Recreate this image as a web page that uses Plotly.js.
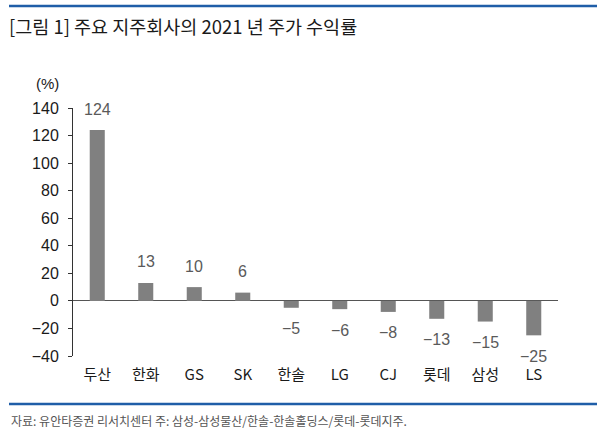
<!DOCTYPE html>
<html>
<head>
<meta charset="utf-8">
<script src="https://cdn.plot.ly/plotly-3.0.1.min.js"></script>
<style>
html,body{margin:0;padding:0;background:#fff;}
#chart{width:606px;height:444px;}
</style>
</head>
<body>
<div id="chart"></div>
<script>
const categories = ["두산","한화","GS","SK","한솔","LG","CJ","롯데","삼성","LS"];
const returns = [124, 13, 10, 6, -5, -6, -8, -13, -15, -25];
const yTicks = [-40, -20, 0, 20, 40, 60, 80, 100, 120, 140];

const W = 606, H = 444;
const M = {l: 73, r: 48, t: 108, b: 88};
const pw = W - M.l - M.r, ph = H - M.t - M.b;
const px = x => (x - M.l) / pw;
const py = y => (H - M.b - y) / ph;

const FONT = "Noto Sans CJK KR, Liberation Sans, sans-serif";

const fmt = v => (v < 0 ? "\u2212" + Math.abs(v) : String(v));

const labelAnns = categories.map((c, i) => ({
  x: c, y: returns[i], xref: "x", yref: "y",
  text: fmt(returns[i]), showarrow: false,
  yshift: returns[i] >= 0 ? 21 : -21,
  font: {family: "Liberation Sans, Arial, sans-serif", size: 16, color: "#5a5a5a"}
}));

const trace = {
  type: "bar", x: categories, y: returns,
  marker: {color: "#808080"}, width: 0.31,
  hoverinfo: "none"
};

const layout = {
  width: W, height: H,
  margin: M,
  paper_bgcolor: "#fff", plot_bgcolor: "#fff",
  showlegend: false,
  title: {
    text: "[그림 1] 주요 지주회사의 2021 년 주가 수익률",
    x: 9 / W, xanchor: "left", xref: "container",
    y: 1 - 28 / H, yanchor: "middle", yref: "container",
    font: {family: FONT, size: 18.5, color: "#1a1a1a"}
  },
  xaxis: {
    type: "category", range: [-0.5, 9.5],
    showline: false, showgrid: false, zeroline: false, ticks: "",
    ticklabelstandoff: 8,
    tickfont: {family: FONT, size: 15, color: "#1a1a1a"},
    fixedrange: true
  },
  yaxis: {
    range: [-40, 140], tickvals: yTicks,
    showline: true, linecolor: "#333", linewidth: 1,
    ticks: "outside", ticklen: 4, tickcolor: "#333",
    ticklabelstandoff: 6,
    showgrid: false,
    zeroline: true, zerolinecolor: "#555", zerolinewidth: 1,
    tickfont: {family: "Liberation Sans, Arial, sans-serif", size: 16, color: "#1a1a1a"},
    fixedrange: true
  },
  shapes: [
    {type: "line", xref: "paper", yref: "paper", x0: px(9), x1: px(597), y0: py(6), y1: py(6),
     line: {color: "#1f5ea8", width: 2.5}},
    {type: "line", xref: "paper", yref: "paper", x0: px(9), x1: px(597), y0: py(404), y1: py(404),
     line: {color: "#1f5ea8", width: 2.5}}
  ],
  annotations: labelAnns.concat([
    {xref: "paper", yref: "paper", x: px(34), y: py(83), xanchor: "left", yanchor: "middle",
     text: "(%)", showarrow: false,
     font: {family: "Liberation Sans, Arial, sans-serif", size: 15, color: "#1a1a1a"}},
    {xref: "paper", yref: "paper", x: px(9), y: py(420), xanchor: "left", yanchor: "middle",
     text: "자료: 유안타증권 리서치센터 주: 삼성-삼성물산/한솔-한솔홀딩스/롯데-롯데지주.", showarrow: false,
     font: {family: FONT, size: 12, color: "#555"}}
  ])
};

Plotly.newPlot("chart", [trace], layout, {displayModeBar: false, staticPlot: true});
</script>
</body>
</html>
